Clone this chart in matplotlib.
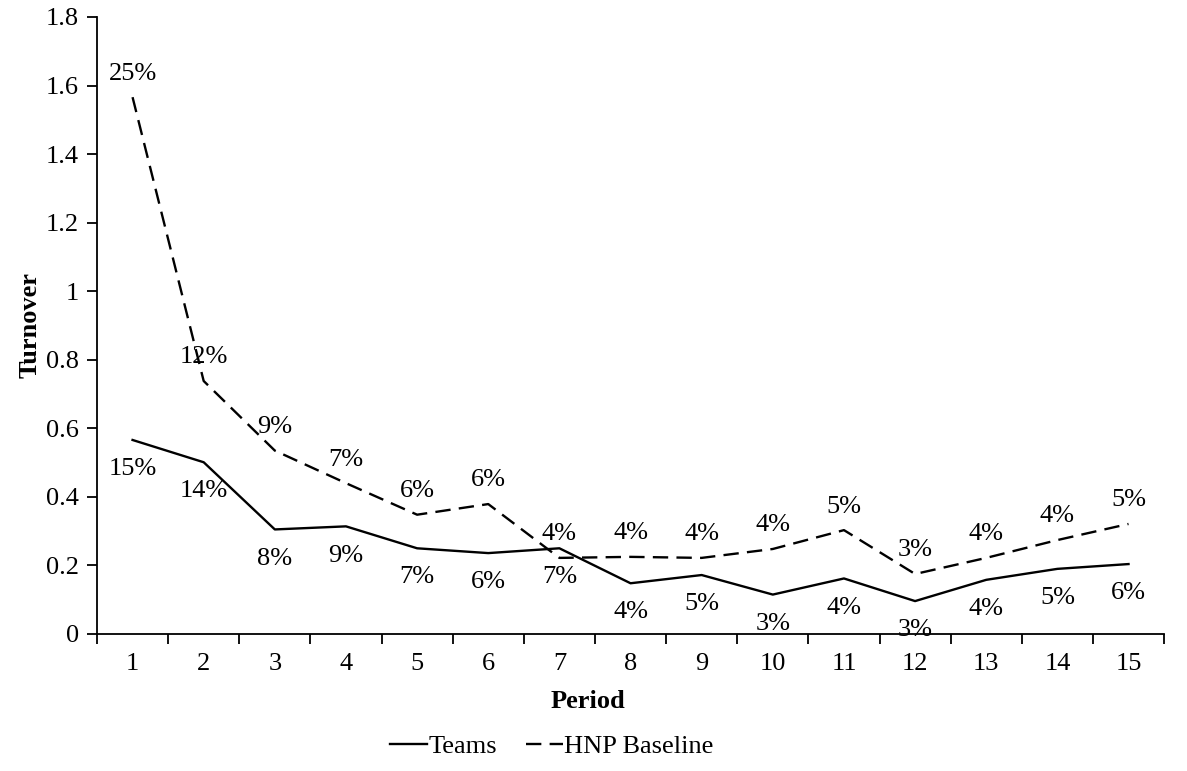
import numpy as np
import matplotlib
matplotlib.use("Agg")
import matplotlib.pyplot as plt

plt.rcParams['font.family'] = ['Liberation Serif', 'DejaVu Serif']

# data
periods = list(range(1, 16))
teams = [0.566, 0.501, 0.305, 0.314, 0.25, 0.236, 0.25, 0.148, 0.172, 0.115, 0.162, 0.096, 0.158, 0.19, 0.204]
hnp = [1.566, 0.738, 0.535, 0.44, 0.348, 0.379, 0.222, 0.225, 0.222, 0.248, 0.303, 0.175, 0.222, 0.274, 0.321]
teams_labels = ['15%', '14%', '8%', '9%', '7%', '6%', '7%', '4%', '5%', '3%', '4%', '3%', '4%', '5%', '6%']
hnp_labels = ['25%', '12%', '9%', '7%', '6%', '6%', '4%', '4%', '4%', '4%', '5%', '3%', '4%', '4%', '5%']
yticks = [0, 0.2, 0.4, 0.6, 0.8, 1, 1.2, 1.4, 1.6, 1.8]
ytick_labels = ['0', '0.2', '0.4', '0.6', '0.8', '1', '1.2', '1.4', '1.6', '1.8']

fs = 19
fig = plt.figure(figsize=(11.87, 7.71), dpi=100)
ax = fig.add_axes([0.0817, 0.1777, 0.899, 0.8003])

ax.plot(periods, teams, color='black', lw=1.7, label='Teams')
ax.plot(periods, hnp, color='black', lw=1.7, dashes=(6.5, 3.5), label='HNP Baseline')

for x, y, t in zip(periods, hnp, hnp_labels):
    ax.annotate(t, (x, y), xytext=(0, 17), textcoords='offset points',
                ha='center', va='center', fontsize=fs)
for x, y, t in zip(periods, teams, teams_labels):
    ax.annotate(t, (x, y), xytext=(0, -21), textcoords='offset points',
                ha='center', va='center', fontsize=fs)

ax.set_xlim(0.5, 15.5)
ax.set_ylim(0, 1.8)
ax.set_yticks(yticks)
ax.set_yticklabels(ytick_labels, fontsize=fs)
ax.set_xticks(periods)
ax.set_xticklabels([str(p) for p in periods], fontsize=fs)
ax.set_xticks(np.arange(0.5, 16, 1), minor=True)
ax.tick_params(axis='x', which='major', length=0, pad=14)
ax.tick_params(axis='x', which='minor', length=7, width=1.3, direction='out')
ax.tick_params(axis='y', length=7, width=1.3, direction='out', pad=6)

for s in ['top', 'right']:
    ax.spines[s].set_visible(False)
for s in ['left', 'bottom']:
    ax.spines[s].set_linewidth(1.3)

fig.text(0.495, 0.090, 'Period', ha='center', va='center', fontsize=fs, fontweight='bold')
fig.text(0.025, 0.578, 'Turnover', ha='center', va='center', rotation=90, fontsize=fs, fontweight='bold')

fig.legend(loc='center', bbox_to_anchor=(0.465, 0.032), ncol=2, frameon=False,
           fontsize=fs, handlelength=1.4, handletextpad=0.05, columnspacing=1.1)

fig.savefig('out.png', dpi=100)
